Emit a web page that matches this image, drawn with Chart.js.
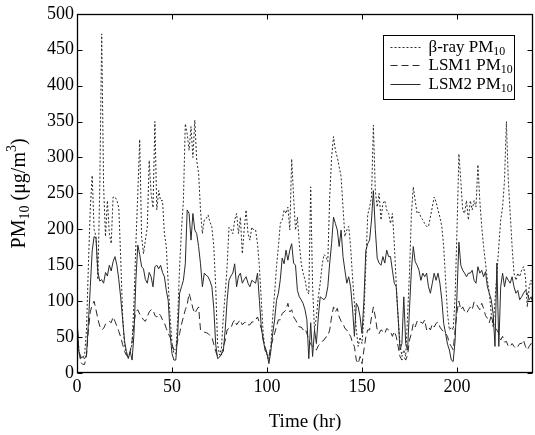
<!DOCTYPE html>
<html><head><meta charset="utf-8">
<script src="https://cdn.jsdelivr.net/npm/chart.js@4.4.1/dist/chart.umd.min.js"></script>
<style>html,body{margin:0;padding:0;background:#fff;}#wrap{width:535px;height:435px;position:relative;}</style>
</head><body><div id="wrap"><canvas id="c" width="535" height="435"></canvas></div>
<script>
// ---- data (hourly, t = 0..240) ----
const hours = Array.from({length: 241}, (_, i) => i);
const betaRay = [
55,30,20,22,25,60,150,230,275,200,
190,130,260,472,260,190,240,195,180,245,
245,240,230,160,80,40,25,22,30,40,
100,180,250,325,190,166,185,203,296,250,
230,350,227,254,240,240,194,176,125,78,
41,27,27,78,148,200,240,347,333,310,
343,300,352,296,278,227,194,213,215,220,
210,203,176,120,40,25,34,78,110,148,
203,200,194,213,222,194,217,166,200,227,
194,185,203,199,199,180,148,101,55,32,
25,18,37,78,111,148,176,208,213,227,
222,231,199,298,245,199,217,180,153,139,
130,115,110,259,120,60,78,106,125,150,
165,162,155,245,300,329,310,300,287,273,
231,190,199,204,176,134,97,60,37,50,
41,78,150,220,231,245,345,254,231,250,
213,236,240,227,222,208,222,180,125,78,
41,23,32,23,80,140,222,259,240,222,
224,217,213,208,204,204,217,231,245,238,
227,217,204,176,129,83,60,64,60,106,
199,305,268,227,222,240,213,240,227,240,
231,290,240,204,176,153,129,111,83,64,
101,139,176,213,231,268,350,268,222,176,
139,129,139,134,143,148,134,92,120,129,120];
const lsm1 = [
75,30,15,12,12,25,60,85,95,100,
88,75,65,60,62,68,70,72,70,78,
72,65,58,50,40,30,25,22,30,45,
70,85,88,82,78,74,72,78,85,88,
88,80,78,83,80,74,70,62,55,50,
40,32,34,45,55,68,78,88,95,111,
101,90,83,88,92,60,58,57,56,55,
52,50,40,30,23,24,25,37,45,60,
62,62,70,74,67,71,74,67,70,71,
67,67,71,71,74,78,70,62,46,36,
28,23,37,46,55,65,74,74,83,85,
88,97,85,88,78,74,69,64,64,60,
62,55,46,40,37,34,32,38,41,44,
46,50,51,60,78,92,85,90,78,72,
69,62,60,55,51,42,37,18,13,23,
13,32,50,60,60,78,92,78,60,55,
60,58,55,62,60,58,51,58,51,37,
23,18,23,18,25,46,55,69,64,72,
69,71,69,74,60,64,60,68,64,69,
71,64,60,58,55,51,41,37,32,60,
85,100,88,92,86,83,88,92,88,99,
97,92,88,97,90,80,76,70,80,70,
64,60,55,46,51,43,44,37,37,41,
37,34,37,41,41,46,37,32,37,41,38];
const lsm2 = [
75,30,22,22,20,25,70,120,170,190,
188,140,128,130,125,140,135,150,142,155,
162,150,130,105,75,45,30,20,30,18,
55,130,178,165,148,145,130,125,140,134,
120,148,150,145,150,140,134,115,101,55,
27,18,18,55,111,120,129,152,227,222,
185,222,199,194,176,152,120,139,136,134,
128,120,90,40,20,22,27,30,60,101,
129,135,139,152,120,135,139,125,130,134,
125,120,129,127,125,139,101,64,46,32,
27,13,30,55,74,101,111,130,160,152,
171,157,171,180,153,150,115,106,102,97,
88,74,20,70,23,60,41,78,106,104,
102,106,120,153,180,217,208,199,176,199,
162,143,125,134,120,90,51,97,92,78,
55,100,170,180,185,213,254,200,160,153,
150,162,153,171,162,162,143,125,120,78,
32,41,106,41,32,90,143,176,155,150,
143,129,139,134,139,120,111,125,139,129,
139,125,102,69,55,40,32,18,16,45,
110,182,150,143,139,134,139,139,143,129,
125,148,139,143,134,141,120,111,102,83,
37,153,37,120,139,120,134,129,125,134,
120,111,115,102,106,111,115,111,102,106,97];
const xTicks = [0, 50, 100, 150, 200];
const yTicks = [0, 50, 100, 150, 200, 250, 300, 350, 400, 450, 500];
const seriesNames = ['β-ray PM10', 'LSM1 PM10', 'LSM2 PM10'];
const xTitle = 'Time (hr)';
const yTitleParts = [['PM', 0], ['10', -1], [' (μg/m', 0], ['3', 1], [')', 0]];

const FONT = '"Liberation Serif", "Times New Roman", serif';
const INK = '#000';
const LINE = '#2a2a2a';
const dashes = [[2, 2], [7, 4], []];
const seriesData = [betaRay, lsm1, lsm2];

const toPts = arr => hours.map((h, i) => ({x: h, y: arr[i]}));

// draw text with sub/superscripts; parts [[text, shift]] shift -1 sub, 1 sup
function partsWidth(ctx, parts, size) {
  let w = 0;
  for (const [t, s] of parts) {
    ctx.font = (s ? size * 0.7 : size) + 'px ' + FONT;
    w += ctx.measureText(t).width;
  }
  return w;
}
function drawParts(ctx, parts, x, y, size) {
  let cx = x;
  for (const [t, s] of parts) {
    ctx.font = (s ? size * 0.7 : size) + 'px ' + FONT;
    const dy = s === -1 ? size * 0.25 : (s === 1 ? -size * 0.38 : 0);
    ctx.fillText(t, cx, y + dy);
    cx += ctx.measureText(t).width;
  }
}
function splitSub(name) {
  const m = name.match(/^(.*?)(\d+)$/);
  return m ? [[m[1], 0], [m[2], -1]] : [[name, 0]];
}

const framePlugin = {
  id: 'frame',
  afterDatasetsDraw(chart) {
    const {ctx, chartArea: a, scales: {x, y}} = chart;
    ctx.save();
    ctx.strokeStyle = INK;
    ctx.lineWidth = 1;
    ctx.setLineDash([]);
    const L = Math.round(a.left) + 0.5, R = Math.round(a.right) - 0.5;
    const T = Math.round(a.top) + 0.5, B = Math.round(a.bottom) - 0.5;
    ctx.beginPath();
    const tl = 5;
    for (const v of xTicks) {
      const px = Math.round(x.getPixelForValue(v)) + 0.5;
      ctx.moveTo(px, B); ctx.lineTo(px, B - tl);
      ctx.moveTo(px, T); ctx.lineTo(px, T + tl);
    }
    for (const v of yTicks) {
      const py = Math.round(y.getPixelForValue(v)) + 0.5;
      ctx.moveTo(L, py); ctx.lineTo(L + tl, py);
      ctx.moveTo(R, py); ctx.lineTo(R - tl, py);
    }
    ctx.stroke();
    ctx.lineWidth = 1.3;
    ctx.strokeRect(L, T, R - L, B - T);

    // legend
    const lw = 131, lh = 64;
    const lx = Math.round(a.right - 19 - lw) + 0.5, ly = Math.round(a.top + 21) + 0.5;
    ctx.fillStyle = '#fff';
    ctx.fillRect(lx, ly, lw, lh);
    ctx.lineWidth = 1;
    ctx.strokeRect(lx, ly, lw, lh);
    const rowH = 18.5;
    const fs = 17;
    ctx.textBaseline = 'middle';
    ctx.textAlign = 'left';
    seriesNames.forEach((name, i) => {
      const ry = ly + 11 + i * rowH;
      ctx.strokeStyle = LINE;
      ctx.lineWidth = 1;
      ctx.setLineDash(dashes[i]);
      ctx.beginPath();
      ctx.moveTo(lx + 7, Math.round(ry) + 0.5);
      ctx.lineTo(lx + 37, Math.round(ry) + 0.5);
      ctx.stroke();
      ctx.setLineDash([]);
      ctx.fillStyle = INK;
      drawParts(ctx, splitSub(name), lx + 45, ry + 1, fs);
    });

    // y title
    const ts = 20;
    ctx.save();
    ctx.translate(20, (a.top + a.bottom) / 2);
    ctx.rotate(-Math.PI / 2);
    ctx.textBaseline = 'middle';
    ctx.fillStyle = INK;
    const w = partsWidth(ctx, yTitleParts, ts);
    drawParts(ctx, yTitleParts, -w / 2, 0, ts);
    ctx.restore();
    ctx.restore();
  }
};

new Chart(document.getElementById('c'), {
  type: 'line',
  data: {
    datasets: seriesData.map((arr, i) => ({
      label: seriesNames[i],
      data: toPts(arr),
      borderColor: LINE,
      borderWidth: 1,
      borderDash: dashes[i],
      pointRadius: 0,
      fill: false,
      tension: 0
    }))
  },
  options: {
    responsive: false,
    animation: false,
    devicePixelRatio: 1,
    layout: {padding: {left: 0, right: 2, top: 13, bottom: 0}},
    plugins: {legend: {display: false}, tooltip: {enabled: false}},
    scales: {
      x: {
        type: 'linear', min: 0, max: 240,
        afterBuildTicks: s => { s.ticks = xTicks.map(v => ({value: v})); },
        afterFit: s => { s.height = 62; },
        grid: {display: false, drawTicks: false},
        border: {display: false},
        ticks: {font: {family: FONT, size: 18}, color: INK, padding: 3, maxRotation: 0},
        title: {display: true, text: xTitle, font: {family: FONT, size: 19}, color: INK, padding: {top: 0, bottom: 2}}
      },
      y: {
        type: 'linear', min: 0, max: 500,
        afterBuildTicks: s => { s.ticks = yTicks.map(v => ({value: v})); },
        afterFit: s => { s.width = 77; },
        grid: {display: false, drawTicks: false},
        border: {display: false},
        ticks: {font: {family: FONT, size: 18}, color: INK, padding: 3}
      }
    }
  },
  plugins: [framePlugin]
});
</script>
</body></html>
